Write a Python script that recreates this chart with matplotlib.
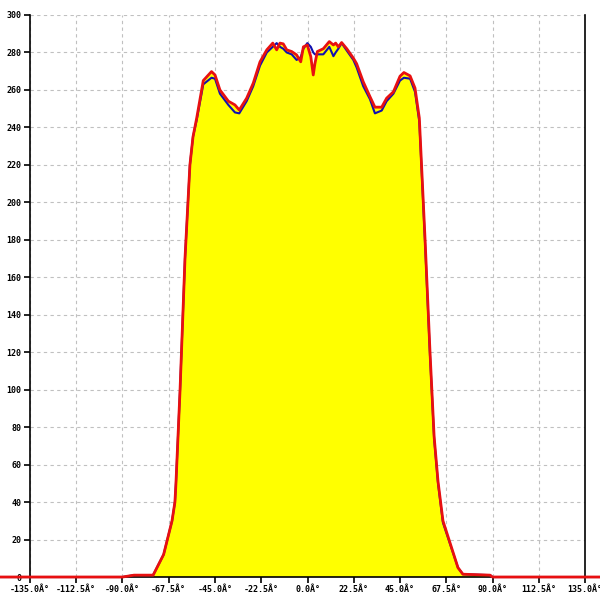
import matplotlib
matplotlib.use('Agg')
import matplotlib.pyplot as plt
import numpy as np

# angle (deg) and two measured curves
angles = [-150, -90, -84.4, -75.1, -70.0, -65.9, -64.5, -64.0, -62.0, -59.6, -57.2,
          -55.7, -53.9, -50.7, -46.7, -45.0, -42.6, -38.5, -35.3, -33.2, -29.6,
          -26.4, -23.1, -19.8, -16.9, -15.0, -13.4, -11.8, -10.1, -7.7, -5.3,
          -3.3, -2.0, -0.1, 1.6, 2.8, 3.6, 4.8, 7.7, 10.6, 12.6, 13.7, 15.0,
          16.6, 19.1, 22.3, 23.9, 27.1, 30.4, 32.8, 36.1, 38.5, 41.8, 45.0,
          46.9, 49.9, 52.3, 54.4, 57.2, 59.6, 61.6, 63.5, 65.9, 73.2, 75.6,
          88.8, 90, 150]
red = [0, 0, 1, 1, 12, 30, 40, 50, 100, 170, 220,
       235, 245, 265, 269.8, 268, 260, 254, 252, 249.3, 255.6,
       263.6, 275, 281.4, 285, 281.4, 285, 284.6, 281.4, 280.5, 278.7,
       275, 283, 284, 277.8, 268, 274, 280.5, 282, 285.8, 284, 285, 283,
       285.3, 282, 277, 274, 264.4, 256.4, 250.8, 250.8, 255.6, 259, 267.3,
       269.3, 267.5, 261, 245, 180, 120, 75, 51, 30, 5, 1.5,
       1, 0, 0]
blue = [0, 0, 1, 1, 12, 30, 40, 50, 100, 170, 220,
        235, 244, 263, 266.5, 266, 258, 252, 248, 247.5, 254,
        262, 273, 280, 283, 285, 283, 282, 280, 279, 276,
        277.5, 282, 285, 283, 280, 279, 279, 279, 283, 278, 280, 282,
        285, 281, 276, 272, 262, 255, 247.5, 249, 254, 258, 265,
        266.5, 266, 259, 243, 178, 118, 74, 50, 29, 5, 1.5,
        1, 0, 0]

xticks = [-135.0, -112.5, -90.0, -67.5, -45.0, -22.5, 0.0, 22.5, 45.0, 67.5, 90.0, 112.5, 135.0]
xtick_labels = [f"{v:.1f}Â°" for v in xticks]
yticks = list(range(0, 301, 20))

fig = plt.figure(figsize=(6, 6), dpi=100)
ax = fig.add_axes([0.05, 0.0383, 0.925, 0.9367])

ax.fill_between(angles, 0, red, color='#ffff00', linewidth=0, zorder=2)
ax.plot(angles, blue, color='#1010b0', linewidth=1.5, zorder=3, clip_on=False)
ax.plot(angles, red, color='#e81010', linewidth=2, zorder=4, clip_on=False)

ax.set_xlim(-135, 135)
ax.set_ylim(0, 300)
ax.set_xticks(xticks)
ax.set_xticklabels(xtick_labels)
ax.set_yticks(yticks)
ax.set_yticklabels([str(v) for v in yticks])

for lab in ax.get_xticklabels() + ax.get_yticklabels():
    lab.set_family('DejaVu Sans Mono')
    lab.set_fontsize(6)
    lab.set_fontweight('bold')

ax.tick_params(direction='out', length=4, width=1.2, colors='black', pad=2)
ax.grid(True, color='#c0c0c0', linestyle=(0, (3, 3)), linewidth=0.8, zorder=1)
ax.set_axisbelow(True)

ax.spines['top'].set_visible(False)
for s in ['left', 'right', 'bottom']:
    ax.spines[s].set_linewidth(1.2)
    ax.spines[s].set_color('black')

plt.savefig('out.png', dpi=100)
